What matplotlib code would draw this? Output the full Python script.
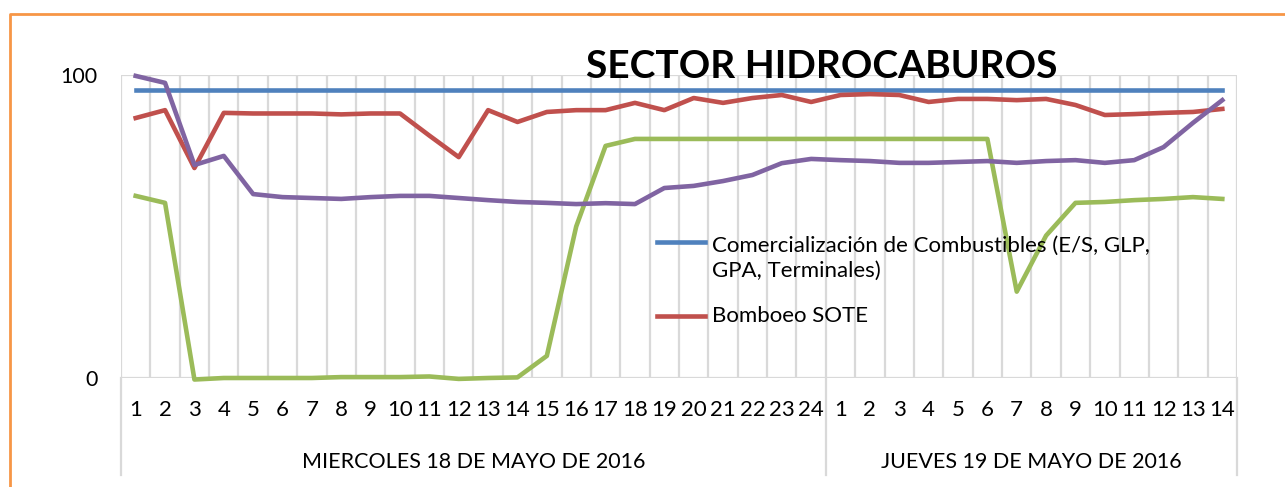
import numpy as np
import matplotlib
matplotlib.use("Agg")
import matplotlib.pyplot as plt
from matplotlib.lines import Line2D
from matplotlib.transforms import blended_transform_factory

plt.rcParams['font.family'] = ['Lato', 'DejaVu Sans']

# hours: 1..24 on Wednesday, 1..14 on Thursday
hours = [str(h) for h in range(1, 25)] + [str(h) for h in range(1, 15)]
days = ["MIERCOLES 18 DE MAYO DE 2016", "JUEVES 19 DE MAYO DE 2016"]
day_sizes = [24, 14]

comercializacion = [95] * 38
bombeo_sote = [85.8, 88.4, 69.3, 87.5, 87.3, 87.3, 87.3, 87.0, 87.3, 87.3,
               80.0, 72.9, 88.4, 84.5, 87.8, 88.4, 88.4, 90.8, 88.4, 92.4,
               90.8, 92.4, 93.4, 91.1, 93.4, 93.7, 93.4, 91.1, 92.1, 92.1,
               91.7, 92.1, 90.1, 86.8, 87.1, 87.5, 87.8, 88.8]
serie_verde = [60.1, 57.8, -0.5, 0.0, 0.0, 0.0, 0.0, 0.3, 0.3, 0.3,
               0.5, -0.3, 0.0, 0.2, 7.3, 50.0, 76.6, 78.9, 78.9, 78.9,
               78.9, 78.9, 78.9, 78.9, 78.9, 78.9, 78.9, 78.9, 78.9, 78.9,
               28.5, 47.0, 57.8, 58.1, 58.7, 59.1, 59.7, 59.1]
serie_morada = [99.7, 97.4, 70.3, 73.3, 60.7, 59.7, 59.4, 59.1, 59.7, 60.1,
                60.1, 59.4, 58.7, 58.1, 57.8, 57.4, 57.7, 57.4, 62.7, 63.4,
                65.0, 67.0, 70.9, 72.3, 71.9, 71.6, 71.0, 71.0, 71.3, 71.6,
                71.0, 71.6, 71.9, 71.0, 71.9, 76.2, 84.2, 91.7]

W, H = 1285, 487
fig = plt.figure(figsize=(W / 100, H / 100), dpi=100)
ax = fig.add_axes([121 / W, 1 - 378 / H, (1237 - 121) / W, (378 - 75) / H])

x = np.arange(len(hours))
grid_c = "#D9D9D9"
for b in np.arange(len(hours) + 1) - 0.5:
    ax.axvline(b, color=grid_c, lw=1.6, zorder=0)
ax.axhline(100, color=grid_c, lw=1.6, zorder=0)
ax.axhline(0, color=grid_c, lw=1.6, zorder=0)

lw = 3.3
ax.plot(x, comercializacion, color="#4F81BD", lw=lw, clip_on=False, zorder=3)
ax.plot(x, bombeo_sote, color="#C0504D", lw=lw, clip_on=False, zorder=3)
ax.plot(x, serie_verde, color="#9BBB59", lw=lw, clip_on=False, zorder=3)
ax.plot(x, serie_morada, color="#8064A2", lw=lw, clip_on=False, zorder=4)

ax.set_xlim(-0.5, len(hours) - 0.5)
ax.set_ylim(0, 100)
for s in ax.spines.values():
    s.set_visible(False)
ax.set_xticks(x)
ax.set_xticklabels(hours, fontsize=16)
ax.set_yticks([0, 100])
ax.set_yticklabels(["0", "100"], fontsize=15.5)
ax.tick_params(axis='x', length=0, pad=16)
ax.tick_params(axis='y', length=0, pad=17)

# day group labels and separators below the axis
tr = blended_transform_factory(ax.transData, ax.transAxes)
edges = [-0.5]
for n in day_sizes:
    edges.append(edges[-1] + n)
low = -(475 - 378) / (378 - 75)
for e in edges:
    ax.add_line(Line2D([e, e], [0, low], transform=tr, color=grid_c, lw=1.6, clip_on=False))
for d, a, b in zip(days, edges[:-1], edges[1:]):
    ax.text((a + b) / 2, -(462 - 378) / (378 - 75), d, transform=tr,
            ha='center', va='center', fontsize=15.5)

# title
fig.text(822 / W, 1 - 66 / H, "SECTOR HIDROCABUROS", ha='center', va='center',
         fontsize=28, fontweight='bold')

# legend (two entries shown in the original)
def leg_entry(y, base, color, text):
    fig.add_artist(Line2D([657 / W, 705 / W], [1 - y / H, 1 - y / H], color=color, lw=lw))
    fig.text(712 / W, 1 - base / H, text, ha='left', va='baseline', fontsize=16,
             linespacing=1.3)

leg_entry(242, 277, "#4F81BD", "Comercialización de Combustibles (E/S, GLP,\nGPA, Terminales)")
leg_entry(316, 322, "#C0504D", "Bomboeo SOTE")

# orange frame
fig.add_artist(Line2D([10 / W, 10 / W, 1], [0, 1 - 14 / H, 1 - 14 / H], color="#F79646", lw=2))

fig.savefig("out.png", dpi=100)
